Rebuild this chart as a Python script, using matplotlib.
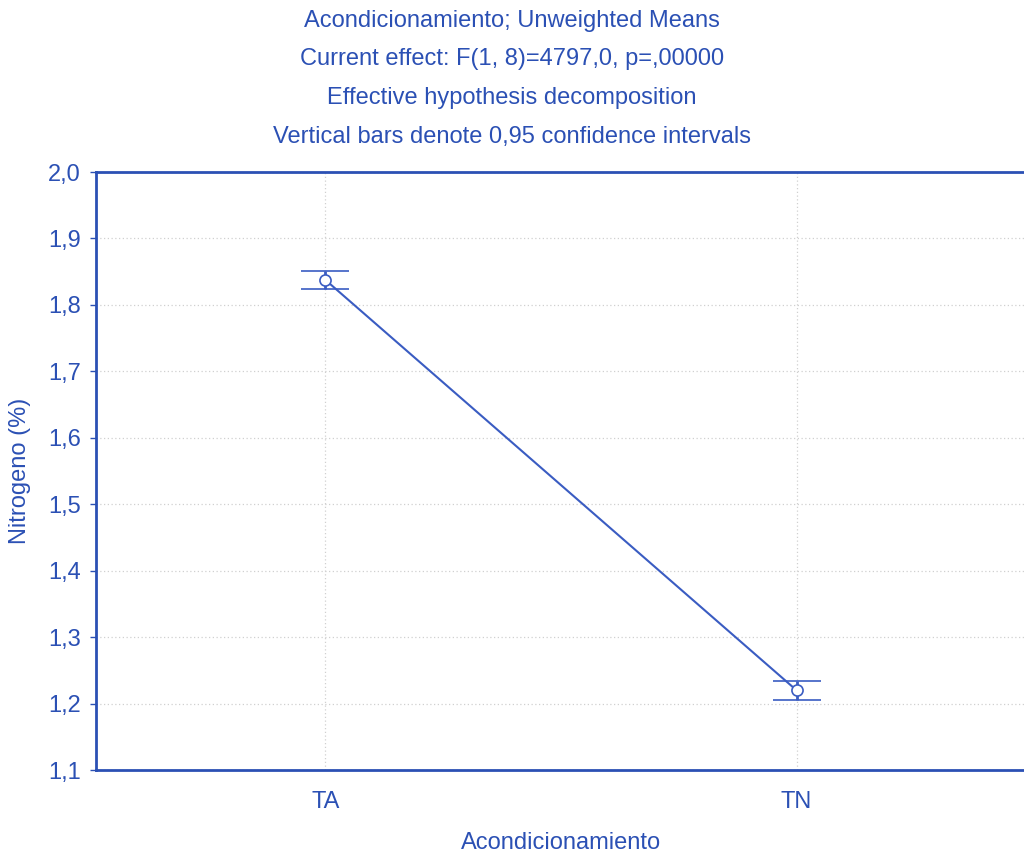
import matplotlib.pyplot as plt

plt.rcParams['font.family'] = ['Liberation Sans', 'DejaVu Sans']

categories = ["TA", "TN"]
means = [1.8375, 1.2200]
ci_low = [1.8236, 1.2053]
ci_high = [1.8514, 1.2344]
yticks = [1.1, 1.2, 1.3, 1.4, 1.5, 1.6, 1.7, 1.8, 1.9, 2.0]

blue = "#2b50b4"
line_blue = "#3a5cc2"

fig = plt.figure(figsize=(10.24, 8.59), dpi=100)
ax = fig.add_axes([96 / 1024, 1 - 770 / 859, (1026 - 96) / 1024, (770 - 172) / 859])

x = list(range(len(categories)))
yerr = [[m - lo for m, lo in zip(means, ci_low)], [hi - m for m, hi in zip(means, ci_high)]]
ax.errorbar(x, means, yerr=yerr, color=line_blue, ecolor=line_blue, lw=1.5,
            elinewidth=2, capsize=17, capthick=2.4, marker='o', markersize=8,
            markerfacecolor='white', markeredgecolor=line_blue, markeredgewidth=1.2,
            zorder=3)

ax.set_xlim(-0.4872, 1.4872)
ax.set_ylim(1.1, 2.0)
ax.set_xticks(x)
ax.set_xticklabels(categories)
ax.set_yticks(yticks)
ax.set_yticklabels([f"{t:.1f}".replace(".", ",") for t in yticks])

ax.grid(True, color="#d0d0d0", linestyle=(0, (1, 2)), linewidth=0.9)
ax.set_axisbelow(True)
for side in ["left", "bottom", "top", "right"]:
    ax.spines[side].set_color(blue)
    ax.spines[side].set_linewidth(2)
ax.tick_params(axis='both', colors=blue, labelcolor=blue, labelsize=17,
               direction='out', length=4, width=1)
ax.tick_params(axis='x', pad=15, length=0)
ax.tick_params(axis='y', pad=7)

ax.set_xlabel("Acondicionamiento", color=blue, fontsize=17, labelpad=14)
ax.set_ylabel("Nitrogeno (%)", color=blue, fontsize=17, labelpad=12)

titles = ["Acondicionamiento; Unweighted Means",
          "Current effect: F(1, 8)=4797,0, p=,00000",
          "Effective hypothesis decomposition",
          "Vertical bars denote 0,95 confidence intervals"]
for i, t in enumerate(titles):
    fig.text(0.5, 1 - (21 + 38.5 * i) / 859, t, ha='center', va='center',
             color=blue, fontsize=17)

fig.savefig("out.png", dpi=100)
